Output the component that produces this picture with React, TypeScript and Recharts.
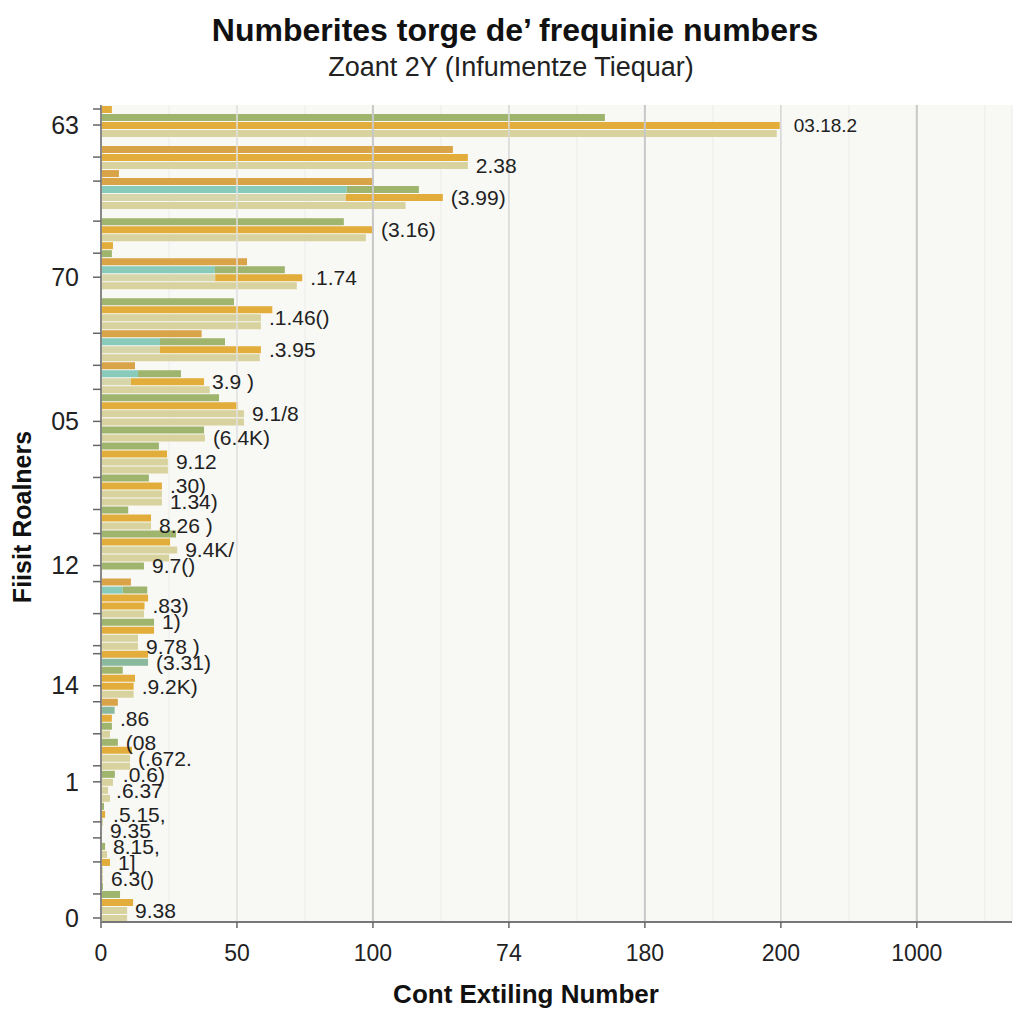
import React from "react";
import { BarChart, Bar, XAxis, YAxis, CartesianGrid, Cell, LabelList, ReferenceLine } from "recharts";

// Row kinds: G green, Y gold, O orange-gold, P pale, T teal, "-" empty row
const rowKinds = [
  "Y","G","Y","P","-","O","Y","P","O","O",
  "G","Y","P","-","G","Y","P","Y","G","O",
  "G","Y","P","-","G","Y","P","P","O","G",
  "Y","P","O","G","Y","P","G","Y","P","P",
  "G","P","G","Y","P","P","G","Y","P","P",
  "G","Y","P","G","Y","P","P","G","-","O",
  "G","Y","Y","P","G","Y","P","P","Y","T",
  "G","Y","Y","P","O","T","Y","G","P","G",
  "Y","P","P","G","P","P","P","G","Y","P",
  "P","-","G","P","Y","P","P","G","G","Y",
  "P","P",
];
const rowValues = [
  4, 185.3, 249.6, 248.5, 0, 129.4, 134.9, 134.9, 6.6, 100,
  116.9, 125.7, 112, 0, 89.3, 100, 97.4, 4.4, 4, 53.7,
  67.6, 74, 72, 0, 48.9, 63, 58.8, 58.8, 37, 45.6,
  58.8, 58.4, 12.5, 29.4, 37.9, 40, 43.4, 50.4, 52.6, 52.6,
  37.9, 38.2, 21.3, 24.3, 24.6, 24.6, 17.6, 22.4, 22.4, 22.4,
  10, 18.4, 18.4, 27.6, 25.4, 28, 25, 15.8, 0, 11,
  17, 17.3, 16, 15.8, 19.5, 19.5, 13.6, 13.6, 17.3, 17.3,
  8, 12.5, 12, 12, 6.2, 5, 4, 4, 3.3, 6.2,
  11.4, 10.7, 10.7, 5.1, 4.4, 2.6, 3.3, 1.1, 1.5, 0.7,
  0.4, 0, 1.5, 2.2, 3.3, 0.7, 0.7, 0.7, 7, 11.8,
  9.6, 9.6,
];
// leading segment of a row: [row number (1-based), kind, value]
const rowLeads: [number, string, number][] = [
  [11, "T", 90.4], [12, "P", 90], [21, "T", 41.9], [22, "P", 42],
  [30, "T", 21.7], [31, "P", 21.7], [34, "T", 13.6], [35, "P", 11], [61, "T", 8],
];
// value labels: [row number, text]
const valueLabels: [number, string][] = [
  [3, "03.18.2"], [8, "2.38"], [12, "(3.99)"], [16, "(3.16)"], [22, ".1.74"],
  [27, ".1.46()"], [31, ".3.95"], [35, "3.9 )"], [39, "9.1/8"], [42, "(6.4K)"],
  [45, "9.12"], [48, ".30)"], [50, "1.34)"], [53, "8.26 )"], [56, "9.4K/"],
  [58, "9.7()"], [63, ".83)"], [65, "1)"], [68, "9.78 )"], [70, "(3.31)"],
  [73, ".9.2K)"], [77, ".86"], [80, "(08"], [82, "(.672."], [84, ".0.6)"],
  [86, ".6.37"], [89, ".5.15,"], [91, "9.35"], [93, "8.15,"], [95, "1]"],
  [97, "6.3()"], [101, "9.38"],
];
const yTickLabels: [number, string][] = [
  [3, "63"], [22, "70"], [40, "05"], [58, "12"], [73, "14"], [85, "1"], [102, "0"],
];
const yTickMarks = [1,3,7,10,15,19,22,29,33,36,40,43,47,51,54,58,60,64,68,69,73,75,79,83,85,90,92,95,99];
const xTickValues = [0, 50, 100, 150, 200, 250, 300];
const xTickLabels = ["0", "50", "100", "74", "180", "200", "1000"];
const xGridValues = [0,25,50,75,100,125,150,175,200,225,250,275,300,325];

const COLORS: Record<string, string> = {
  G: "#9fb56d",
  Y: "#e3ad3c",
  O: "#d9a348",
  P: "#d8d29e",
  T: "#8ab99e",
  "-": "transparent",
};
const LEAD_COLORS: Record<string, string> = { T: "#89cbbb", P: "#d6d6aa" };

const leadMap = new Map(rowLeads.map((l) => [l[0], l]));
const labelMap = new Map(valueLabels);
const data = rowValues.map((v, i) => {
  const lead = leadMap.get(i + 1);
  const lv = lead ? lead[2] : 0;
  return {
    id: "r" + (i + 1),
    kind: rowKinds[i],
    leadKind: lead ? lead[1] : "-",
    lead: lv,
    rest: v - lv,
    label: labelMap.get(i + 1) || "",
  };
});
const yLabelMap = new Map(yTickLabels);
const yMarkSet = new Set(yTickMarks);

const FONT = "'Liberation Sans', Arial, Helvetica, sans-serif";

const YTick = (props: any) => {
  const { y, index } = props;
  const n = index + 1;
  const lbl = yLabelMap.get(n);
  return (
    <g>
      {yMarkSet.has(n) || lbl ? <line x1={93} x2={101} y1={y} y2={y} stroke="#666" strokeWidth={1.5} /> : null}
      {lbl ? (
        <text x={79} y={y} dy="0.35em" textAnchor="end" fontSize={25} fill="#222" fontFamily={FONT}>
          {lbl}
        </text>
      ) : null}
    </g>
  );
};

const XTick = (props: any) => {
  const { x, payload } = props;
  const idx = xTickValues.indexOf(payload.value);
  if (idx < 0) return <g />;
  return (
    <g>
      <line x1={x} x2={x} y1={922} y2={928} stroke="#666" strokeWidth={1.5} />
      <text x={x} y={953} dy="0.35em" textAnchor="middle" fontSize={23} fill="#222" fontFamily={FONT}>
        {xTickLabels[idx]}
      </text>
    </g>
  );
};

const renderValueLabel = (props: any) => {
  const { x, y, width, height, value } = props;
  if (!value) return null;
  const first = value === valueLabels[0][1];
  return (
    <text x={x + width + (first ? 14 : 8)} y={y + height / 2} dy="0.35em" fontSize={first ? 19 : 21} fill="#222" fontFamily={FONT}>
      {value}
    </text>
  );
};

export default function App() {
  return (
    <div style={{ position: "absolute", left: 0, top: 0, width: 1024, height: 1024, background: "#ffffff", fontFamily: FONT }}>
      <div style={{ position: "absolute", top: 12, left: 0, width: 1030, textAlign: "center", fontSize: 32, fontWeight: "bold", color: "#111", whiteSpace: "nowrap" }}>
        Numberites torge de’ frequinie numbers
      </div>
      <div style={{ position: "absolute", top: 52, left: 0, width: 1022, textAlign: "center", fontSize: 27, color: "#222", whiteSpace: "nowrap" }}>
        Zoant 2Y (Infumentze Tiequar)
      </div>
      <div style={{ position: "absolute", top: 979, left: 0, width: 1052, textAlign: "center", fontSize: 26, fontWeight: "bold", color: "#111", whiteSpace: "nowrap" }}>
        Cont Extiling Number
      </div>
      <div
        style={{
          position: "absolute",
          left: 22,
          top: 517,
          transform: "translate(-50%, -50%) rotate(-90deg)",
          whiteSpace: "nowrap",
          fontSize: 25,
          fontWeight: "bold",
          color: "#111",
        }}
      >
        Fiisit Roalners
      </div>
      <div style={{ position: "absolute", left: 0, top: 0 }}>
        <BarChart
          width={1024}
          height={1024}
          data={data}
          layout="vertical"
          margin={{ top: 105, right: 12, bottom: 0, left: 0 }}
          barSize={7}
        >
          <CartesianGrid horizontal={false} vertical={true} stroke="#ececec" fill="#f8f8f5" />
          <XAxis
            type="number"
            domain={[0, 335]}
            ticks={xGridValues}
            interval={0}
            height={102}
            tick={<XTick />}
            tickLine={false}
            axisLine={{ stroke: "#777", strokeWidth: 2 }}
            allowDataOverflow
          />
          <YAxis
            type="category"
            dataKey="id"
            width={101}
            interval={0}
            tick={<YTick />}
            tickLine={false}
            axisLine={{ stroke: "#888", strokeWidth: 2 }}
          />
          <ReferenceLine x={50} stroke="#e0e0e0" strokeWidth={1.5} />
          <ReferenceLine x={100} stroke="#c8c8c8" strokeWidth={2} />
          <ReferenceLine x={150} stroke="#d8d8d8" strokeWidth={1.5} />
          <ReferenceLine x={200} stroke="#c8c8c8" strokeWidth={2} />
          <ReferenceLine x={250} stroke="#d6d6d6" strokeWidth={1.5} />
          <ReferenceLine x={300} stroke="#c8c8c8" strokeWidth={2} />
          <Bar dataKey="lead" stackId="s" isAnimationActive={false}>
            {data.map((d, i) => (
              <Cell key={i} fill={LEAD_COLORS[d.leadKind] || "transparent"} />
            ))}
          </Bar>
          <Bar dataKey="rest" stackId="s" isAnimationActive={false}>
            {data.map((d, i) => (
              <Cell key={i} fill={COLORS[d.kind]} />
            ))}
            <LabelList dataKey="label" content={renderValueLabel} />
          </Bar>
        </BarChart>
      </div>
    </div>
  );
}
